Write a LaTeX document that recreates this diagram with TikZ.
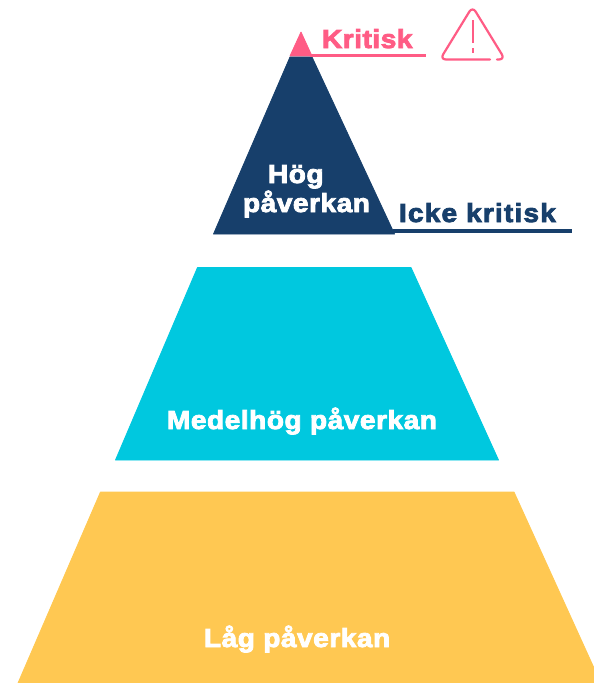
\documentclass[tikz,border=0pt]{standalone}
\usepackage{fontspec}
\newfontfamily\heavyfont{Liberation Sans Bold}[FakeBold=3.2,FakeStretch=1.08,LetterSpace=2]
\newfontfamily\heavywidefont{Liberation Sans Bold}[FakeBold=3.2,FakeStretch=1.08,LetterSpace=4.5]
\definecolor{pinkc}{HTML}{FF5C85}
\definecolor{navyc}{HTML}{173F6B}
\definecolor{cyanc}{HTML}{00C8DF}
\definecolor{yellowc}{HTML}{FFC852}
\tikzset{
  lbl/.style={anchor=base west,inner sep=0pt,outer sep=0pt,font=\fontsize{26}{28}\selectfont\heavyfont},
  lblwide/.style={lbl,font=\fontsize{26}{28}\selectfont\heavywidefont},
  band/.style={line join=round,line width=0.8pt},
  rule/.style={line width=3.5pt}
}
\begin{document}
\begin{tikzpicture}[x=1pt,y=-1pt]
\useasboundingbox (0,0) rectangle (594,683);
\clip (0,0) rectangle (594,683);
\fill[band,pinkc,draw=pinkc] (301,32) -- (312,56) -- (290,56) -- cycle;
\fill[band,navyc,draw=navyc] (290,57) -- (312,57) -- (394.5,234) -- (213.5,234) -- cycle;
\fill[band,cyanc,draw=cyanc] (197.5,267.5) -- (411,267.5) -- (498.5,460) -- (115.5,460) -- cycle;
\fill[band,yellowc,draw=yellowc] (100.5,492) -- (514,492) -- (604,690) -- (15,690) -- cycle;
\coordinate (kritA) at (310,55.3);
\coordinate (kritB) at (426,55.3);
\coordinate (ickeA) at (393,231);
\coordinate (ickeB) at (572,231);
\draw[rule,pinkc] (kritA) -- (kritB);
\draw[rule,navyc] (ickeA) -- (ickeB);
\node[lbl,text=pinkc] (krit) at (322,48) {Kritisk};
\node[lblwide,text=navyc] (icke) at (399,222) {Icke kritisk};
\node[lbl,text=white] (hog1) at (268,183) {Hög};
\node[lbl,text=white] (hog2) at (243,212) {påverkan};
\node[lbl,text=white] (med) at (167,429) {Medelhög påverkan};
\node[lbl,text=white] (lag) at (204,647) {Låg påverkan};
% warning icon
\coordinate (wL) at (440,59.5);
\coordinate (wT) at (472.5,6.5);
\coordinate (wR) at (505,59.5);
\coordinate (wG1) at (490,59.5);
\coordinate (wG2) at (497,59.5);
\draw[pinkc,line width=2.2pt,line cap=round,line join=round,rounded corners=6pt]
  (wG1) -- (wL) -- (wT) -- (wR) -- (wG2);
\draw[pinkc,line width=2pt] (472.5,20) -- (472.5,43);
\draw[pinkc,line width=2pt] (472.5,48) -- (472.5,53);
\end{tikzpicture}
\end{document}
